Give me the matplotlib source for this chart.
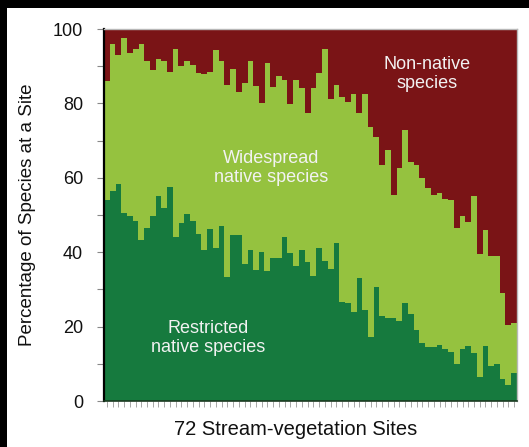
import matplotlib
matplotlib.use("Agg")
import matplotlib.pyplot as plt
from matplotlib.patches import Rectangle
import numpy as np

plt.rcParams['font.family'] = ['Liberation Sans', 'DejaVu Sans']

sites = list(range(1, 73))

restricted = [54, 56.5, 58.2, 50.6, 49.6, 48.4, 43.3, 46.4, 49.6, 55.1,
              52, 57.6, 44.2, 47.8, 50.4, 48.5, 45, 40.5, 46.3, 41,
              47, 33.2, 44.6, 44.6, 36.7, 40.6, 35.3, 40.1, 34.9, 38.5,
              38.5, 44.2, 39.7, 36.2, 40.6, 37.4, 33.5, 41.1, 37.6, 35.4,
              42.4, 26.5, 26.3, 24, 33, 24.5, 17.3, 30.6, 22.8, 22.3,
              22.3, 21.6, 26.3, 23.4, 19.1, 15.6, 14.6, 14.6, 15, 14,
              13.3, 10, 14, 14.8, 13, 6.5, 14.8, 9.5, 10, 5.8, 4.3, 7.6]

widespread = [32, 39.5, 34.8, 46.9, 43.9, 46.1, 52.7, 45.1, 39.4, 36.9,
              39.5, 30.9, 50.3, 42.2, 41.1, 41.8, 43.2, 47.5, 42.2, 53.3,
              44.3, 51.8, 44.6, 38.4, 48.9, 50.8, 49.3, 39.9, 55.9, 46,
              48.9, 42.1, 40.1, 50.1, 43.5, 40, 50.7, 47, 57, 45.8,
              42.6, 55.3, 54.1, 58.6, 44.4, 58.1, 56.3, 40.4, 40.7, 45.2,
              33.1, 41.1, 46.5, 40.9, 44.3, 44.3, 42.6, 40.9, 40.8, 40.3,
              40.7, 36.5, 35.7, 33.2, 42, 32.9, 31.2, 29.5, 29, 23.2, 16.2, 13.4]

nonnative = [14, 4, 7, 2.5, 6.5, 5.5, 4, 8.5, 11, 8,
             8.5, 11.5, 5.5, 10, 8.5, 9.7, 11.8, 12, 11.5, 5.7,
             8.7, 15, 10.8, 17, 14.4, 8.6, 15.4, 20, 9.2, 15.5,
             12.6, 13.7, 20.2, 13.7, 15.9, 22.6, 15.8, 11.9, 5.4, 18.8,
             15, 18.2, 19.6, 17.4, 22.6, 17.4, 26.4, 29, 36.5, 32.5,
             44.6, 37.3, 27.2, 35.7, 36.6, 40.1, 42.8, 44.5, 44.2, 45.7,
             46, 53.5, 50.3, 52, 45, 60.6, 54, 61, 61, 71, 79.5, 79]

y_ticks = [0, 20, 40, 60, 80, 100]

c_restr = '#167A3E'
c_wide = '#95C23F'
c_non = '#7A1416'

W, H = 529, 447
fig = plt.figure(figsize=(W / 100, H / 100), dpi=100)
fig.patch.set_facecolor('white')

# black frame strips (top and left)
fig.patches.append(Rectangle((0, 1 - 8 / H), 1, 8 / H, transform=fig.transFigure,
                             facecolor='black', edgecolor='none', zorder=0))
fig.patches.append(Rectangle((0, 0), 7 / W, 1, transform=fig.transFigure,
                             facecolor='black', edgecolor='none', zorder=0))

ax = fig.add_axes([104 / W, (H - 401) / H, 413 / W, 372 / H])

x = np.arange(len(sites))
r = np.array(restricted)
w = np.array(widespread)
n = np.array(nonnative)
bw = 1.04
ax.bar(x, r, width=bw, color=c_restr, edgecolor='none', linewidth=0)
ax.bar(x, w, width=bw, bottom=r, color=c_wide, edgecolor='none', linewidth=0)
ax.bar(x, n, width=bw, bottom=r + w, color=c_non, edgecolor='none', linewidth=0)

ax.set_xlim(-0.5, len(sites) - 0.5)
ax.set_ylim(0, 100)

ax.set_yticks(y_ticks)
ax.set_yticklabels([str(v) for v in y_ticks], fontsize=13, color='#111111')
ax.set_yticks(np.arange(10, 100, 20), minor=True)
ax.tick_params(axis='y', which='both', length=5, width=0.8, color='#888888', pad=10)

ax.set_xticks(x, minor=True)
ax.set_xticks([])
ax.tick_params(axis='x', which='minor', length=4, width=0.6, color='#999999')

ax.spines['left'].set_color('black')
ax.spines['left'].set_linewidth(1.6)
ax.spines['bottom'].set_color('#1a3a20')
ax.spines['bottom'].set_linewidth(1.2)
for s in ['top', 'right']:
    ax.spines[s].set_color('#b8b8b8')
    ax.spines[s].set_linewidth(1.0)

ax.set_ylabel('Percentage of Species at a Site', fontsize=13.5, color='#111111')
ax.yaxis.set_label_coords(-0.165, 0.5)
ax.set_xlabel('72 Stream-vegetation Sites', fontsize=14.5, color='#111111')
ax.xaxis.set_label_coords(0.465, -0.05)

txt_color = '#F2F2F2'
ax.text(55.8, 87.8, 'Non-native\nspecies', ha='center', va='center', fontsize=13,
        color=txt_color, linespacing=1.15)
ax.text(28.6, 62.6, 'Widespread\nnative species', ha='center', va='center', fontsize=13,
        color=txt_color, linespacing=1.15)
ax.text(17.7, 16.9, 'Restricted\nnative species', ha='center', va='center', fontsize=13,
        color=txt_color, linespacing=1.15)

fig.savefig('out.png', dpi=100, facecolor=fig.get_facecolor())
